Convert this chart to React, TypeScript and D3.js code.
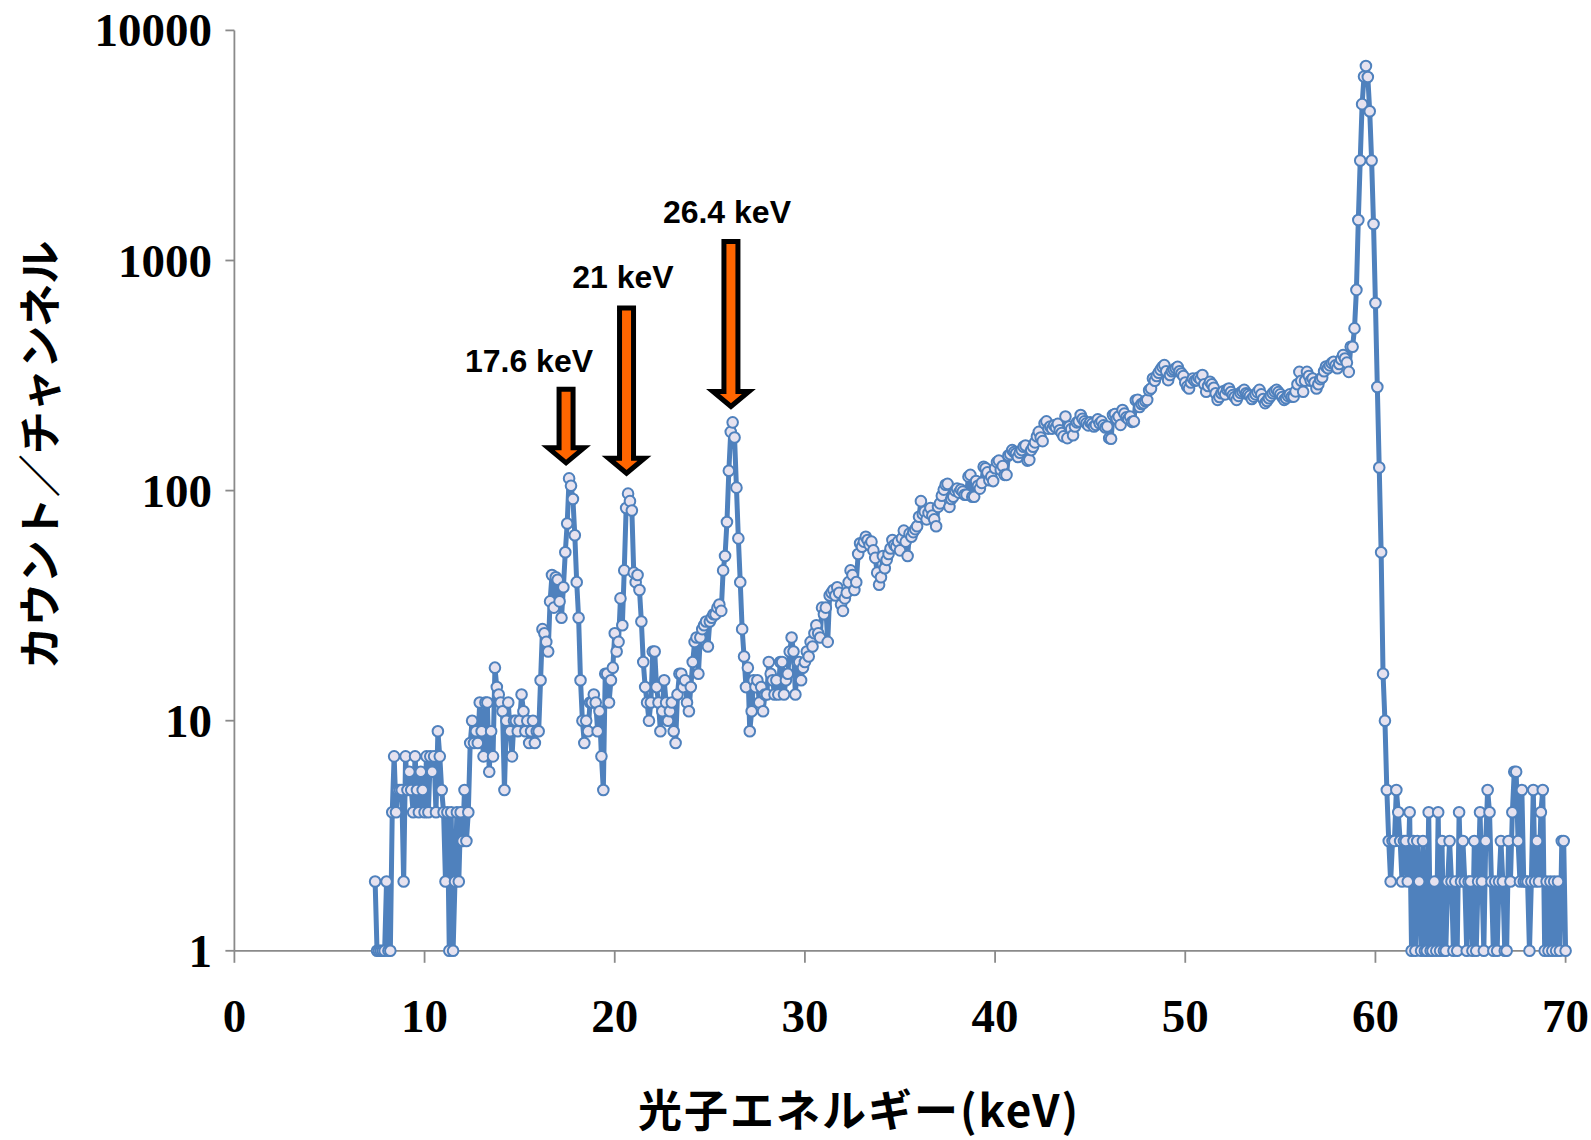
import * as d3 from "d3";

// spectrum: counts per channel, first channel at 7.4 keV, 0.1 keV per channel
const E_START = 7.4;
const E_STEP = 0.1;

const counts7 = [2, 1, 1, 1, 1, 1];
const counts8 = [2, 1, 1, 4, 7, 4, 5, 5, 5, 2];
const counts9 = [7, 5, 6, 5, 4, 7, 5, 4, 6, 5];
const counts10 = [4, 7, 4, 7, 6, 7, 4, 9, 7, 5];
const counts11 = [4, 2, 4, 1, 4, 1, 2, 4, 2, 4];
const counts12 = [3, 5, 3, 4, 8, 10, 8, 9, 8, 12];
const counts13 = [9, 7, 12, 12, 6, 9, 7, 17, 14, 13];
const counts14 = [12, 11, 5, 10, 12, 9, 7, 10, 10, 9];
const counts15 = [10, 13, 11, 9, 10, 8, 9, 10, 8, 9];
const counts16 = [9, 15, 25, 24, 22, 20, 33, 43, 31, 42];
const counts17 = [41, 33, 28, 38, 54, 72, 113, 105, 92, 64];
const counts18 = [40, 28, 15, 10, 8, 10, 9, 12, 12, 13];
const counts19 = [12, 9, 11, 7, 5, 16, 16, 12, 15, 17];
const counts20 = [24, 20, 22, 34, 26, 45, 84, 97, 90, 82];
const counts21 = [44, 40, 43, 37, 27, 18, 14, 12, 10, 12];
const counts22 = [20, 20, 14, 12, 9, 11, 15, 12, 10, 11];
const counts23 = [12, 9, 8, 13, 16, 16, 14, 15, 12, 11];
const counts24 = [14, 18, 22, 23, 16, 23, 25, 26, 27, 21];
const counts25 = [27, 28, 29, 29, 31, 32, 30, 45, 52, 73];
const counts26 = [122, 180, 198, 170, 103, 62, 40, 25, 19, 14];
const counts27 = [17, 9, 11, 15, 14, 15, 12, 14, 11, 13];
const counts28 = [13, 18, 16, 15, 13, 15, 13, 18, 18, 13];
const counts29 = [15, 16, 20, 23, 20, 13, 18, 18, 15, 17];
const counts30 = [18, 20, 19, 22, 21, 24, 26, 24, 23, 31];
const counts31 = [29, 31, 22, 35, 36, 37, 35, 38, 36, 32];
const counts32 = [30, 34, 36, 40, 45, 43, 37, 40, 53, 59];
const counts33 = [57, 60, 63, 61, 58, 60, 55, 51, 44, 39];
const counts34 = [42, 52, 46, 50, 53, 56, 61, 58, 57, 60];
const counts35 = [55, 62, 67, 60, 52, 65, 63, 66, 68, 70];
const counts36 = [77, 90, 79, 81, 75, 80, 84, 78, 75, 70];
const counts37 = [85, 88, 95, 101, 106, 107, 85, 92, 94, 100];
const counts38 = [102, 98, 101, 99, 96, 96, 115, 117, 94, 94];
const counts39 = [110, 105, 102, 108, 127, 125, 120, 111, 115, 110];
const counts40 = [125, 133, 135, 123, 128, 117, 117, 142, 144, 150];
const counts41 = [147, 145, 140, 146, 150, 155, 157, 135, 136, 150];
const counts42 = [155, 162, 172, 180, 170, 164, 196, 200, 186, 190];
const counts43 = [186, 192, 188, 195, 183, 178, 172, 210, 169, 190];
const counts44 = [185, 174, 190, 198, 200, 213, 205, 200, 196, 192];
const counts45 = [198, 195, 190, 193, 204, 196, 200, 192, 188, 190];
const counts46 = [169, 168, 213, 215, 205, 210, 193, 224, 216, 208];
const counts47 = [205, 210, 199, 200, 247, 248, 231, 238, 240, 245];
const counts48 = [248, 273, 278, 307, 300, 315, 325, 335, 345, 351];
const counts49 = [330, 302, 318, 330, 335, 340, 345, 330, 323, 315];
const counts50 = [295, 283, 278, 295, 307, 300, 302, 310, 305, 318];
const counts51 = [290, 269, 285, 297, 290, 280, 265, 248, 255, 265];
const counts52 = [270, 262, 275, 278, 268, 260, 255, 248, 258, 266];
const counts53 = [270, 274, 265, 262, 258, 250, 256, 262, 268, 274];
const counts54 = [262, 250, 240, 245, 252, 258, 265, 270, 274, 268];
const counts55 = [262, 255, 248, 252, 258, 262, 256, 256, 270, 290];
const counts56 = [328, 300, 269, 300, 328, 315, 300, 307, 295, 278];
const counts57 = [290, 305, 310, 330, 346, 340, 350, 358, 363, 350];
const counts58 = [340, 355, 372, 388, 375, 360, 328, 422, 422, 507];
const counts59 = [745, 1500, 2720, 4780, 6300, 7000, 6270, 4450, 2720, 1440];
const counts60 = [654, 282, 126, 54, 16, 10, 5, 3, 2, 3];
const counts61 = [3, 5, 4, 3, 2, 3, 3, 2, 4, 1];
const counts62 = [3, 1, 3, 2, 1, 3, 1, 1, 4, 1];
const counts63 = [1, 2, 1, 4, 1, 3, 1, 1, 2, 3];
const counts64 = [2, 1, 2, 1, 4, 2, 3, 2, 1, 2];
const counts65 = [2, 1, 3, 1, 2, 4, 2, 1, 3, 5];
const counts66 = [4, 2, 1, 2, 1, 2, 3, 2, 1, 1];
const counts67 = [3, 2, 4, 6, 6, 3, 2, 5, 2, 2];
const counts68 = [2, 1, 2, 5, 2, 3, 2, 4, 5, 1];
const counts69 = [2, 1, 2, 1, 2, 1, 2, 1, 3, 3];
const counts70 = [1];

const counts = [
  counts7, counts8, counts9, counts10, counts11, counts12, counts13, counts14,
  counts15, counts16, counts17, counts18, counts19, counts20, counts21, counts22,
  counts23, counts24, counts25, counts26, counts27, counts28, counts29, counts30,
  counts31, counts32, counts33, counts34, counts35, counts36, counts37, counts38,
  counts39, counts40, counts41, counts42, counts43, counts44, counts45, counts46,
  counts47, counts48, counts49, counts50, counts51, counts52, counts53, counts54,
  counts55, counts56, counts57, counts58, counts59, counts60, counts61, counts62,
  counts63, counts64, counts65, counts66, counts67, counts68, counts69, counts70,
].flat();

// axes
const xTicks = [0, 10, 20, 30, 40, 50, 60, 70];
const yTicks = [1, 10, 100, 1000, 10000];

// peak annotations
const peakLabels = ["17.6 keV", "21 keV", "26.4 keV"];
const arrowEnergy = [17.44, 20.62, 26.11];
const arrowTopCount = [276, 622, 1209];
const arrowTipCount = [132, 119, 232];
const labelEnergy = [15.49, 20.43, 25.9];
const labelCount = [328, 760, 1452];

const W = 1591;
const H = 1140;
const BLUE = "#4F81BD";

export default function App() {
  const x = d3.scaleLinear().domain([0, 70]).range([234.4, 1565.6]);
  const y = d3.scaleLog().domain([1, 10000]).range([950.8, 30.4]);

  const points = counts.map((c, i) => ({ e: E_START + i * E_STEP, c }));

  const line = d3
    .line<{ e: number; c: number }>()
    .x((d) => x(d.e))
    .y((d) => y(d.c));

  const tickFont = "'Liberation Serif', 'Times New Roman', serif";
  const jpFont = "'Noto Sans CJK JP', sans-serif";

  // arrow outline: shaft + head, built around the scaled positions
  const arrowPath = (i: number) => {
    const cx = x(arrowEnergy[i]);
    const top = y(arrowTopCount[i]);
    const tip = y(arrowTipCount[i]);
    const headH = 15;
    const sw = 7;
    const hw = 18;
    const neck = tip - headH;
    return `M${cx - sw},${top}L${cx + sw},${top}L${cx + sw},${neck}L${cx + hw},${neck}L${cx},${tip}L${cx - hw},${neck}L${cx - sw},${neck}Z`;
  };

  return (
    <svg
      width={W}
      height={H}
      style={{ position: "absolute", left: 0, top: 0, background: "#fff" }}
    >
      {/* y axis */}
      <line x1={x(0)} x2={x(0)} y1={y(10000)} y2={y(1)} stroke="#8a8a8a" strokeWidth={1.8} />
      {yTicks.map((t) => (
        <g key={"y" + t}>
          <line x1={x(0) - 9} x2={x(0)} y1={y(t)} y2={y(t)} stroke="#8a8a8a" strokeWidth={1.8} />
          <text
            x={212}
            y={y(t) + 16}
            textAnchor="end"
            fontFamily={tickFont}
            fontWeight="bold"
            fontSize={47}
            fill="#000"
          >
            {t}
          </text>
        </g>
      ))}

      {/* x axis */}
      <line x1={x(0)} x2={x(70)} y1={y(1)} y2={y(1)} stroke="#8a8a8a" strokeWidth={1.8} />
      {xTicks.map((t) => (
        <g key={"x" + t}>
          <line x1={x(t)} x2={x(t)} y1={y(1)} y2={y(1) + 12} stroke="#8a8a8a" strokeWidth={1.8} />
          <text
            x={x(t)}
            y={1032}
            textAnchor="middle"
            fontFamily={tickFont}
            fontWeight="bold"
            fontSize={47}
            fill="#000"
          >
            {t}
          </text>
        </g>
      ))}

      {/* axis titles */}
      <text
        x={859}
        y={1127}
        textAnchor="middle"
        fontFamily={jpFont}
        fontWeight="bold"
        fontSize={44}
        letterSpacing={2}
        fill="#000"
      >
        光子エネルギー(keV)
      </text>
      <text
        transform={`translate(56,455) rotate(-90)`}
        textAnchor="middle"
        fontFamily={jpFont}
        fontWeight="bold"
        fontSize={43}
        fill="#000"
      >
        カウント／チャンネル
      </text>

      {/* spectrum */}
      <path
        d={line(points) ?? ""}
        fill="none"
        stroke={BLUE}
        strokeWidth={5}
        strokeLinejoin="round"
      />
      {points.map((d, i) => (
        <circle
          key={i}
          cx={x(d.e)}
          cy={y(d.c)}
          r={5.3}
          fill="#E6E2EF"
          stroke={BLUE}
          strokeWidth={2}
        />
      ))}

      {/* peak arrows and labels */}
      {peakLabels.map((lab, i) => (
        <g key={lab}>
          <path
            d={arrowPath(i)}
            fill="#FF6600"
            stroke="#000"
            strokeWidth={5}
            strokeLinejoin="miter"
          />
          <text
            x={x(labelEnergy[i])}
            y={y(labelCount[i])}
            textAnchor="middle"
            fontFamily="'Liberation Sans', Arial, sans-serif"
            fontWeight="bold"
            fontSize={32}
            fill="#000"
          >
            {lab}
          </text>
        </g>
      ))}
    </svg>
  );
}
